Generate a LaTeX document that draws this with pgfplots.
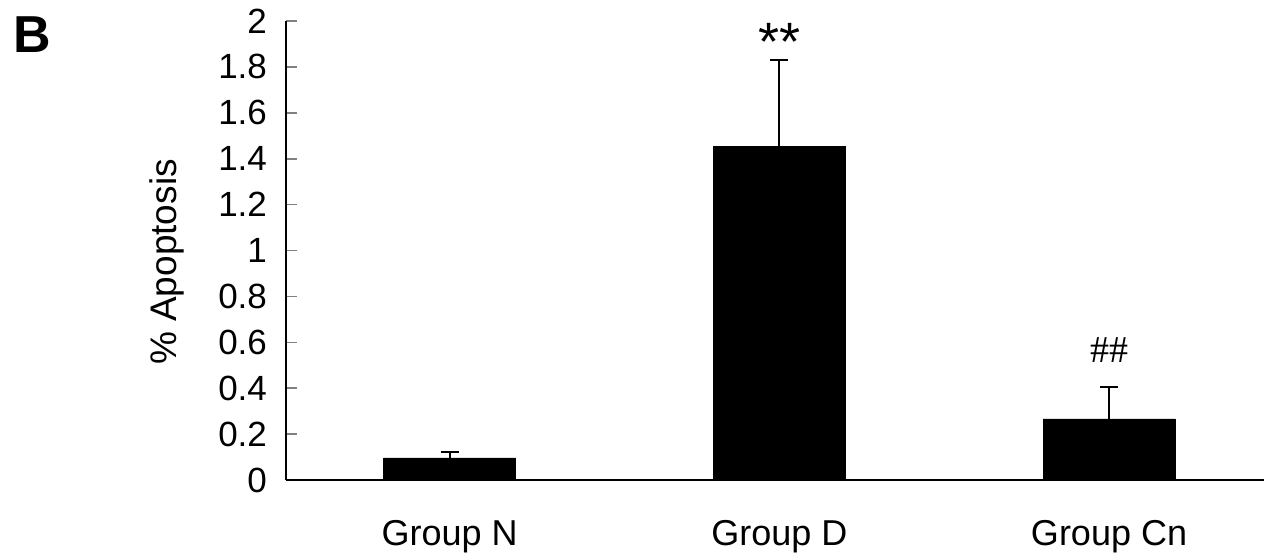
\documentclass[border=0pt]{standalone}
\usepackage{fontspec}
\setmainfont{Liberation Sans}
\newfontfamily\serifb{Liberation Serif}
\usepackage{pgfplots}
\pgfplotsset{compat=1.18}
\begin{document}
\begin{tikzpicture}
\path[use as bounding box] (0,0) rectangle (632pt,276.5pt);
\node[font=\fontsize{26}{28}\selectfont\bfseries] at (16pt,259pt) {B};
\node[font=\fontsize{18.5}{20}\selectfont, rotate=90] at (83.5pt,145.5pt) {\% Apoptosis};
\begin{axis}[
  at={(143pt,36.5pt)}, anchor=south west,
  scale only axis,
  width=489pt, height=229.5pt,
  xmin=-0.496, xmax=2.47,
  ymin=0, ymax=2,
  axis x line=bottom, axis y line=left,
  axis line style={-, line width=1pt},
  ytick={0,0.2,...,2.01},
  yticklabels={0,0.2,0.4,0.6,0.8,1,1.2,1.4,1.6,1.8,2},
  xtick={0,1,2},
  xticklabels={Group N,Group D,Group Cn},
  x tick style={draw=none},
  y tick style={line width=0.8pt},
  ytick pos=left,
  tick align=inside,
  major tick length=5.5pt,
  xticklabel style={font=\fontsize{18}{20}\selectfont, yshift=-16.5pt},
  yticklabel style={font=\fontsize{17.5}{19}\selectfont, xshift=-6pt},
  /pgf/number format/assume math mode=true,
  clip=false,
]
\addplot[ybar, bar width=0.4, fill=black, draw=black,
  error bars/.cd, y dir=plus, y explicit,
  error bar style={line width=1pt},
  error mark options={rotate=90, mark size=4.5pt, line width=1pt}]
  coordinates {
    (0,0.096) +- (0,0.026)
    (1,1.455) +- (0,0.375)
    (2,0.266) +- (0,0.139)
  };
\node[font=\fontsize{27}{29}\selectfont, anchor=center] at (axis cs:1,1.91) {**};
\node[font=\fontsize{19}{21}\selectfont\serifb] at (axis cs:2,0.566) {\#\#};
\end{axis}
\end{tikzpicture}
\end{document}
